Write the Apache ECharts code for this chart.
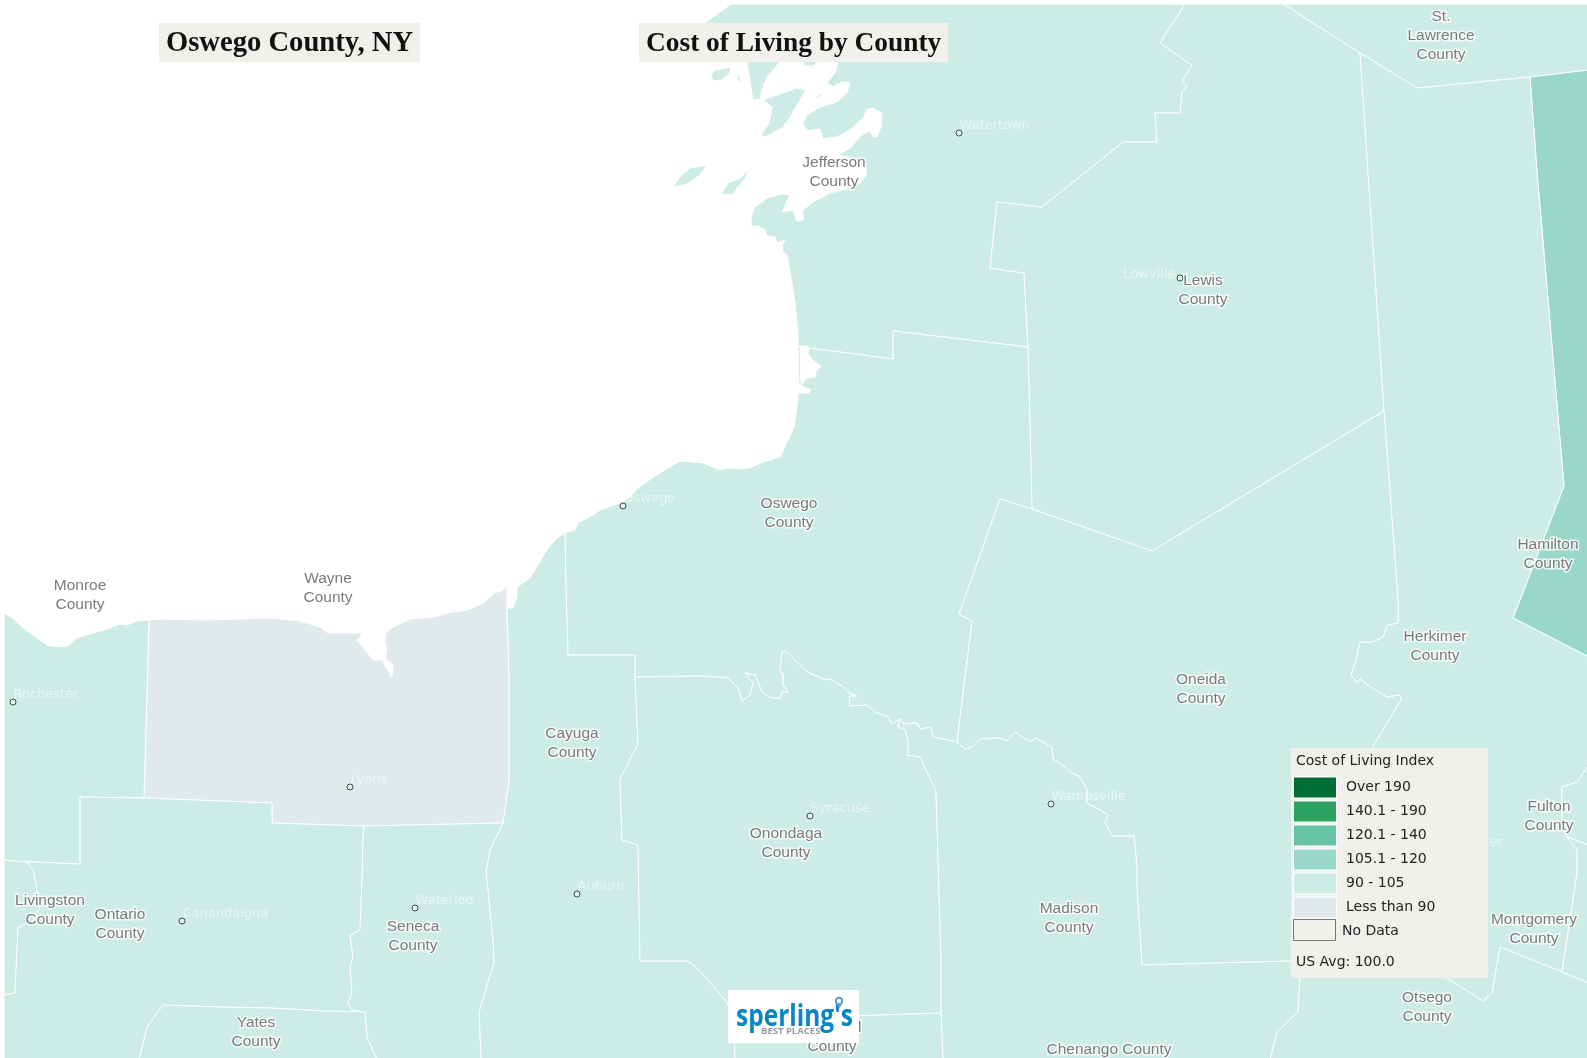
<!DOCTYPE html>
<html><head><meta charset="utf-8"><style>html,body{margin:0;padding:0;background:#fff}#c{width:1587px;height:1058px}</style>
<script src="https://cdn.jsdelivr.net/npm/echarts@6/dist/echarts.min.js"></script></head><body><div id="c"></div>
<script>
const countyNames  = ['St. Lawrence','Jefferson','Lewis','Hamilton','Herkimer','Oswego','Oneida','Cayuga','Onondaga','Madison','Wayne','Monroe','Livingston','Ontario','Seneca','Yates','Cortland','Otsego','Fulton','Montgomery'];
const countyValues = [93,95,94,112,95,97,95,94,99,98,88,97,94,98,92,93,96,98,93,91];
const legendLabels = ['Over 190','140.1 - 190','120.1 - 140','105.1 - 120','90 - 105','Less than 90'];
const legendColors = ['#006d33','#2ca25f','#66c2a4','#99d8c9','#ccece5','#e0eaec'];
const legendMins   = [190.0001,140.1,120.1,105.1,90,0];
const legendMaxs   = [100000,190,140,120,105,89.9999];

// ---- map outlines in map units ----
const coastTop = [[731,4],[705,23],[700,40],[738,60],[747,62],[751,88],[753,100],[760,99],[762,90],[767,77],[775,68],[780,61],[790,50],[802,61],[805,66],[813,66],[820,61],[830,50],[838,61],[835,73],[827,83],[833,87],[842,82],[850,83],[847,93],[837,102],[820,107],[807,115],[803,123],[807,131],[820,129],[823,139],[837,137],[850,130],[863,118],[867,110],[872,108],[882,113],[881,127],[877,137],[873,137],[870,131],[862,135],[850,148],[838,155],[852,158],[866,164],[866,176],[860,183],[850,188],[830,193],[813,202],[803,210],[803,220],[797,221],[793,210],[782,212],[790,195],[783,194],[767,198],[755,207],[751,217],[751,227],[758,226],[765,230],[767,236],[775,237],[777,243],[785,240],[782,245],[783,252],[787,255],[792,283],[795,303],[798,333],[798,346],[807,346]];
const coastOswego = [[808,348],[809,350],[808,354],[815,362],[821,366],[816,372],[815,377],[807,378],[803,383],[800,385],[811,390],[809,393],[798,393],[798,400],[794,427],[788,440],[780,457],[763,462],[752,467],[742,469],[727,468],[720,470],[703,463],[680,461],[658,474],[638,488],[630,497],[620,503],[600,510],[593,515],[578,523],[575,530],[565,533]];
const coastCayuga = [[565,533],[557,538],[548,548],[538,565],[530,578],[517,587],[517,597],[513,608],[508,608],[507,587]];
const coastWayne = [[507,587],[499,592],[495,592],[485,602],[467,610],[447,613],[435,617],[410,619],[393,627],[386,633],[385,643],[387,650],[385,658],[393,665],[392,677],[382,660],[373,660],[367,652],[357,640],[363,633],[338,633],[328,633],[320,627],[307,623],[300,621],[270,618],[243,619],[203,620],[160,619],[149,620]];
const coastMonroe = [[149,620],[137,621],[127,625],[120,624],[107,629],[93,633],[77,638],[68,646],[58,647],[47,645],[37,638],[23,628],[13,618],[4,613]];
const jeffersonInland = [[1185,4],[1160,43],[1192,65],[1182,82],[1187,86],[1182,92],[1180,113],[1155,113],[1157,142],[1123,142],[1042,207],[997,202],[990,268],[1024,273],[1028,347]];
const jeffersonSouth = [[1028,347],[893,331],[893,359],[840,352],[808,348]];
const oswegoEast = [[1028,347],[1032,509],[1000,499],[959,614],[972,621],[957,742]];
const oswegoWest = [[565,533],[566,590],[568,655],[635,655],[635,677]];
const onondagaNorth = [[635,677],[700,676],[717,677],[728,678],[738,688],[742,701],[750,695],[753,683],[745,673],[755,675],[762,692],[770,698],[780,698],[782,692],[789,692],[783,685],[783,673],[780,672],[782,652],[786,651],[797,662],[807,672],[823,679],[832,680],[843,687],[849,693],[857,696],[849,696],[850,706],[867,705],[875,712],[888,717],[892,724],[900,719]];
const madisonNorth = [[900,719],[904,724],[917,723],[920,729],[931,727],[933,737],[957,742]];
const onondagaEast = [[900,719],[898,727],[905,730],[908,740],[908,752],[907,755],[920,757],[936,791],[941,960],[941,1013]];
const oneidaSouth = [[957,742],[965,749],[972,747],[980,739],[993,738],[1000,738],[1007,741],[1015,732],[1030,742],[1036,738],[1045,743],[1052,748],[1053,759],[1065,767],[1070,772],[1080,777],[1087,790],[1087,803],[1100,810],[1108,815],[1105,823],[1112,836],[1134,836],[1137,867],[1137,890],[1142,965],[1291,961],[1300,961]];
const oneidaNorth = [[1000,499],[1032,509],[1152,551],[1384,411]];
const herkimerWest = [[1384,411],[1398,600],[1398,623],[1387,625],[1383,637],[1373,642],[1360,642],[1355,663],[1351,675],[1357,683],[1360,679],[1372,688],[1387,697],[1400,695],[1401,700],[1372,748],[1330,880],[1300,961]];
const herkimerSouth = [[1300,961],[1447,978],[1483,1001],[1492,993],[1500,947]];
const lewisEast = [[1283,4],[1360,53],[1366,130],[1384,411]];
const hamiltonWest = [[1530,77],[1537,172],[1564,486],[1513,618],[1589,657]];
const fultonWest = [[1589,765],[1583,773],[1577,782],[1562,787],[1562,820],[1567,837]];
const montgomeryWest = [[1567,837],[1577,850],[1577,873],[1562,972]];
const montgomerySouth = [[1500,947],[1562,972],[1589,983]];
const otsegoWest = [[1300,961],[1300,975],[1298,1012],[1277,1032],[1270,1060]];
const wayneEast = [[507,587],[507,620],[508,640],[509,680],[509,780],[503,823]];
const wayneSouth = [[149,620],[144,798],[272,803],[272,823],[364,826],[503,823]];
const cayugaEast = [[635,677],[638,744],[620,779],[622,840],[638,845],[640,961],[688,961],[700,971],[727,1002],[734,1020],[735,1060]];
const cayugaWest = [[503,823],[490,850],[486,871],[493,941],[494,962],[479,1012],[481,1060]];
const senecaWest = [[364,826],[363,840],[362,880],[360,930],[350,935],[353,957],[350,967],[352,993],[348,1003],[352,1010],[365,1012],[367,1037],[377,1060]];
const yatesTop = [[365,1012],[325,1011],[270,1008],[220,1007],[163,1005],[147,1027],[139,1060]];
const livingstonEast = [[27,862],[33,870],[36,883],[37,893],[40,908],[33,920],[18,928],[15,993],[4,995]];
const islands = [
  [[711,75],[715,70],[731,67],[729,74],[722,80],[713,81]],
  [[737,75],[739,74],[741,83],[738,81]],
  [[763,100],[783,93],[797,88],[806,90],[803,95],[794,110],[790,118],[782,128],[775,132],[765,137],[761,135],[769,123],[772,107]],
  [[815,97],[823,92],[821,96],[816,98]],
  [[673,187],[680,177],[690,168],[707,165],[700,175],[687,184],[675,187]],
  [[722,193],[728,183],[741,178],[748,169],[745,179],[737,188],[732,195],[723,194]],
  [[798,347],[800,347],[801,385],[799,385]]
];
const rev = a => a.slice().reverse();
const countyShapes = {
  'St. Lawrence': [[[1283,4],[1589,4],[1589,70],[1530,77],[1417,88],[1360,53]]],
  'Jefferson': [[...coastTop, ...rev(jeffersonSouth), ...rev(jeffersonInland), [731,4]], ...islands],
  'Lewis': [[[1185,4],...lewisEast,[1152,551],[1032,509],...rev(jeffersonInland)]],
  'Hamilton': [[[1530,77],[1589,70],...rev(hamiltonWest)]],
  'Herkimer': [[[1360,53],[1417,88],...hamiltonWest,...fultonWest,...montgomeryWest,...rev(montgomerySouth).slice(1),...rev(herkimerSouth).slice(1),...rev(herkimerWest).slice(1,-1),[1384,411]]],
  'Oswego': [[...coastOswego,...oswegoWest,...onondagaNorth,...madisonNorth,...rev(oswegoEast),...jeffersonSouth]],
  'Oneida': [[...oneidaNorth,...herkimerWest,...rev(oneidaSouth).slice(1),[972,621],[959,614]]],
  'Cayuga': [[...coastCayuga,...wayneEast,...cayugaWest,[735,1060],...rev(cayugaEast),...rev(oswegoWest)]],
  'Onondaga': [[...onondagaNorth,...onondagaEast,[734,1020],...rev(cayugaEast).slice(1)]],
  'Madison': [[...madisonNorth,...oneidaSouth,...otsegoWest,[943,1060],[941,1013],...rev(onondagaEast).slice(1)]],
  'Wayne': [[...coastWayne,...wayneSouth.slice(1),...rev(wayneEast)]],
  'Monroe': [[...coastMonroe,[4,860],[27,862],[37,862],[80,864],[80,797],[144,798]]],
  'Livingston': [[[4,860],...livingstonEast]],
  'Ontario': [[[80,797],[144,798],[272,803],[272,823],...senecaWest.slice(0,-2),...yatesTop.slice(1),[4,1060],[4,995],...rev(livingstonEast).slice(1),[37,862],[80,864]]],
  'Seneca': [[...senecaWest,[481,1060],...rev(cayugaWest)]],
  'Yates': [[...yatesTop,[377,1060],[367,1037]]],
  'Cortland': [[[734,1020],[941,1013],[943,1060],[735,1060]]],
  'Otsego': [[...herkimerSouth,...montgomerySouth.slice(1),[1589,1060],...rev(otsegoWest).slice(0,-1)]],
  'Fulton': [[...fultonWest,[1589,845]]],
  'Montgomery': [[...montgomeryWest,[1589,983],[1589,845]]]
};

const countyLabels = [['St.\nLawrence\nCounty',1441,36],['Jefferson\nCounty',834,172],['Lewis\nCounty',1203,290],['Oswego\nCounty',789,513],['Hamilton\nCounty',1548,554],['Herkimer\nCounty',1435,646],['Oneida\nCounty',1201,689],['Cayuga\nCounty',572,743],['Onondaga\nCounty',786,843],['Madison\nCounty',1069,918],['Fulton\nCounty',1549,816],['Montgomery\nCounty',1534,929],['Otsego\nCounty',1427,1007],['Seneca\nCounty',413,936],['Ontario\nCounty',120,924],['Livingston\nCounty',50,910],['Yates\nCounty',256,1032],['Monroe\nCounty',80,595],['Wayne\nCounty',328,588],['Cortland\nCounty',832,1037],['Chenango County',1109,1050]];
const cityPoints = [['Watertown',959,133],['Lowville',1180,278],['Oswego',623,506],['Rochester',13,702],['Lyons',350,787],['Syracuse',810,816],['Auburn',577,894],['Waterloo',415,908],['Canandaigua',182,921],['Wampsville',1051,804],['Herkimer',1442,850]];

const geojson = {type:'FeatureCollection',features:Object.keys(countyShapes).map(n=>({type:'Feature',properties:{name:n},geometry:{type:'MultiPolygon',coordinates:countyShapes[n].map(r=>[r])}}))};
echarts.registerMap('ny', geojson);

const chart = echarts.init(document.getElementById('c'), null, {renderer:'canvas'});
const legendText = (text,x,y,size) => ({type:'text',z:101,silent:true,x,y,style:{text,fill:'#222',font:(size||14)+'px "DejaVu Sans"',verticalAlign:'middle',align:'left'}});
const legendGraphics = [
  {type:'rect',z:100,silent:true,shape:{x:1291,y:748,width:197,height:230},style:{fill:'#f1f0ec'}},
  legendText('Cost of Living Index',1296,761),
  ...legendLabels.flatMap((t,i)=>[
    {type:'rect',z:101,silent:true,shape:{x:1293.5,y:777+24*i,width:43,height:21},style:{fill:legendColors[i],stroke:'#fff',lineWidth:1}},
    legendText(t,1346,787.5+24*i)
  ]),
  {type:'rect',z:101,silent:true,shape:{x:1293.5,y:919.5,width:42,height:21},style:{fill:'#f1f0ec',stroke:'#777',lineWidth:1}},
  legendText('No Data',1342,931),
  legendText('US Avg: 100.0',1296,962)
];
const logoGraphics = [
  {type:'rect',z:100,silent:true,shape:{x:728,y:990,width:131,height:53},style:{fill:'#fff'}},
  {type:'text',z:101,silent:true,x:736,y:1017,scaleX:0.79,style:{text:"sperling's",fill:'#0b85c6',font:'bold 31px "Open Sans"',verticalAlign:'middle'}},
  {type:'text',z:102,silent:true,x:761,y:1031,style:{text:'BEST PLACES',fill:'#9a9ca3',font:'bold 9.5px "Open Sans"',verticalAlign:'middle'}},
  {type:'rect',z:102,silent:true,shape:{x:829,y:995,width:17,height:9},style:{fill:'#fff'}},
  {type:'polygon',z:103,silent:true,shape:{points:[[835,1002],[843,1002],[839,1009]]},style:{fill:'#5a9bd8'}},
  {type:'circle',z:103,silent:true,shape:{cx:839,cy:1001,r:3.2},style:{fill:'#fff',stroke:'#5a9bd8',lineWidth:2}}
];
const titleStyle = {fontFamily:'"Liberation Serif"',fontWeight:'bold',color:'#111',lineHeight:36};
chart.setOption({
  animation:false,
  backgroundColor:'#fff',
  title:[
    {text:'Oswego County, NY',left:159,top:23,backgroundColor:'#f1f0ec',padding:[3,7,0,7],textStyle:{...titleStyle,fontSize:28.6}},
    {text:'Cost of Living by County',left:639,top:23,backgroundColor:'#f1f0ec',padding:[3,7,0,7],textStyle:{...titleStyle,fontSize:27.4}}
  ],
  visualMap:{show:false,type:'piecewise',seriesIndex:0,pieces:legendLabels.map((t,i)=>({min:legendMins[i],max:legendMaxs[i],color:legendColors[i],label:t}))},
  geo:{map:'ny',roam:false,silent:true,left:4,top:4,width:1585,height:1056,
    projection:{project:p=>[p[0],p[1]],unproject:p=>[p[0],p[1]]},
    itemStyle:{areaColor:'#ccece5',borderColor:'#fff',borderWidth:1},label:{show:false},emphasis:{disabled:true},select:{disabled:true}},
  series:[
    {type:'map',geoIndex:0,silent:true,data:countyNames.map((n,i)=>({name:n,value:countyValues[i]})),label:{show:false}},
    {type:'scatter',coordinateSystem:'geo',silent:true,z:3,symbol:'circle',symbolSize:6,
      itemStyle:{color:'#e8f6f1',borderColor:'#222',borderWidth:1},
      data:cityPoints.map(c=>({name:c[0],value:[c[1],c[2]],
        label:c[0]==='Lowville'?{position:'left',distance:0,offset:[-1,-3]}:{position:'right',distance:0,offset:[-3,-7]}})),
      label:{show:true,formatter:'{b}',color:'#f2faf8',fontFamily:'"DejaVu Sans"',fontSize:13}},
    {type:'scatter',coordinateSystem:'geo',silent:true,z:4,symbolSize:0,
      data:countyLabels.map(c=>({name:c[0],value:[c[1],c[2]]})),
      label:{show:true,position:'inside',formatter:'{b}',color:'#5a5a5a',fontFamily:'"Liberation Sans"',fontSize:15.5,lineHeight:19,align:'center',verticalAlign:'middle',textBorderColor:'#fff',textBorderWidth:3},
      labelLayout:{hideOverlap:false}}
  ],
  graphic:{elements:[...legendGraphics,...logoGraphics]}
});
</script></body></html>
